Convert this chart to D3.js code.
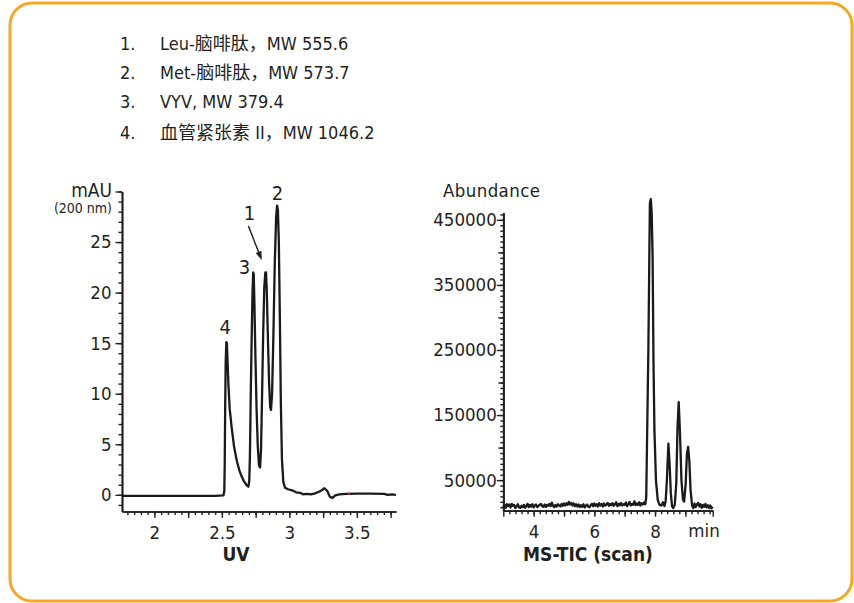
<!DOCTYPE html>
<html><head><meta charset="utf-8">
<script src="https://cdn.jsdelivr.net/npm/d3@7"></script>
<style>
html,body{margin:0;padding:0;background:#fff;}
svg text{font-family:'Liberation Sans Narrow','DejaVu Sans Condensed','Noto Sans CJK SC',sans-serif;fill:#231f20;}
</style></head>
<body><svg id="c" width="854" height="603"></svg>
<script>
// ---------- data ----------
const legendNums = ["1.", "2.", "3.", "4."];
const legendLabels = ["Leu-脑啡肽，MW 555.6", "Met-脑啡肽，MW 573.7", "VYV, MW 379.4", "血管紧张素 II，MW 1046.2"];

// UV trace: [time (min), mAU]
const uvTrace = [
 [1.76,-0.1],[1.9,-0.1],[2.1,-0.1],[2.3,-0.1],[2.45,-0.1],[2.512,-0.05],[2.518,0.4],[2.521,3],
 [2.524,8],[2.528,13],[2.533,15.1],[2.537,15.0],[2.541,13.6],[2.548,11],[2.558,8.5],[2.573,6.6],
 [2.59,4.8],[2.61,3.4],[2.63,2.4],[2.647,1.8],[2.665,1.3],[2.683,0.95],[2.696,0.8],[2.703,1.4],
 [2.708,4],[2.713,9],[2.72,15],[2.727,20],[2.732,22],[2.736,21.8],[2.741,19],[2.748,14],
 [2.757,8.5],[2.766,4.8],[2.775,2.9],[2.783,2.7],[2.79,4.5],[2.798,10],[2.806,16],[2.814,20.5],
 [2.822,22],[2.827,22],[2.833,20],[2.841,15.5],[2.85,11],[2.858,8.7],[2.864,8.4],[2.872,10],
 [2.882,16],[2.892,23],[2.902,27.5],[2.909,28.6],[2.915,28.2],[2.922,25],[2.93,17],[2.937,9],
 [2.945,3.5],[2.955,1.3],[2.968,0.7],[2.99,0.55],[3.02,0.45],[3.05,0.25],[3.08,0.2],[3.1,0.05],
 [3.13,0.1],[3.16,0.05],[3.19,0.15],[3.22,0.3],[3.24,0.45],[3.26,0.65],[3.28,0.4],[3.30,-0.2],
 [3.32,-0.3],[3.34,-0.05],[3.37,0.05],[3.42,0.1],[3.5,0.12],[3.6,0.12],[3.7,0.1],[3.73,0.0],
 [3.76,0.05],[3.79,0.0]
];
const uvRedMark = [3.436, 3.446];

// MS-TIC trace: [time (min), abundance]
const msTrace = [
 [3.00,8000],[3.04,12000],[3.08,7500],[3.12,13000],[3.16,10000],[3.20,12500],[3.24,8000],[3.28,13500],
 [3.32,10500],[3.36,12000],[3.40,7000],[3.44,9500],[3.48,13000],[3.52,8000],[3.56,7500],[3.60,10500],
 [3.64,8500],[3.68,12000],[3.72,7500],[3.76,10000],[3.80,13500],[3.84,8500],[3.88,12000],[3.92,9500],
 [3.96,13000],[4.00,8000],[4.04,11000],[4.08,12500],[4.12,8500],[4.16,10500],[4.20,12000],[4.24,13500],
 [4.28,10000],[4.32,9000],[4.36,12500],[4.40,8500],[4.44,12000],[4.48,10500],[4.52,13500],[4.56,10000],
 [4.60,15500],[4.64,10500],[4.68,8500],[4.72,12000],[4.76,9500],[4.80,13000],[4.84,11000],[4.88,9500],
 [4.92,13500],[4.96,10500],[5.00,14000],[5.04,11000],[5.08,14500],[5.12,12000],[5.16,16500],[5.20,12500],
 [5.24,15000],[5.28,11000],[5.32,14000],[5.36,10000],[5.40,13000],[5.44,9500],[5.48,12500],[5.52,8500],
 [5.56,11500],[5.60,9000],[5.64,13000],[5.68,8000],[5.72,10500],[5.76,12500],[5.80,9000],[5.84,8500],
 [5.88,11500],[5.92,13500],[5.96,10000],[6.00,14000],[6.04,10500],[6.08,13000],[6.12,9500],[6.16,14500],
 [6.20,11000],[6.24,13500],[6.28,9500],[6.32,14000],[6.36,11000],[6.40,12500],[6.44,15000],[6.48,10500],
 [6.52,13500],[6.56,11500],[6.60,14500],[6.64,10500],[6.68,13000],[6.72,16000],[6.76,10000],[6.80,13500],
 [6.84,11500],[6.88,15000],[6.92,11000],[6.96,13000],[7.00,12000],[7.04,15500],[7.08,10000],[7.12,13000],
 [7.16,16500],[7.20,11000],[7.24,13500],[7.28,12000],[7.32,17500],[7.36,11500],[7.40,14000],[7.44,12000],
 [7.48,16000],[7.52,11000],[7.56,14500],[7.60,12500],[7.64,15500],
 [7.68,13000],[7.71,24000],[7.78,250000],[7.83,475000],[7.86,482000],[7.89,460000],[7.92,393000],
 [7.95,227000],[7.98,127000],[8.03,50000],[8.09,19000],[8.15,12000],[8.21,11000],[8.26,16000],
 [8.31,10000],[8.35,18000],[8.39,50000],[8.44,106000],[8.48,75000],[8.52,30000],[8.56,10000],
 [8.60,7000],[8.65,12000],[8.70,45000],[8.74,130000],[8.78,170000],[8.82,125000],[8.87,50000],
 [8.92,20000],[8.96,17000],[9.01,45000],[9.05,90000],[9.09,101000],[9.13,80000],[9.17,35000],
 [9.22,11000],[9.26,7000],[9.30,14000],[9.34,8500],[9.38,12500],[9.42,15000],[9.46,9500],[9.50,13000],
 [9.54,7500],[9.58,12000],[9.62,9000],[9.66,13500],[9.70,8000],[9.74,11500],[9.78,7000],[9.82,11000],
 [9.86,6500],[9.90,9000]
];

// ticks
const uvYLabels = [0, 5, 10, 15, 20, 25];
const uvYMajor = [0, 5, 10, 15, 20, 25, 30];
const uvXLabels = [2, 2.5, 3, 3.5];
const uvXMajor = [2, 2.25, 2.5, 2.75, 3, 3.25, 3.5, 3.75];
const msYLabels = [50000, 150000, 250000, 350000, 450000];
const msYMedium = [100000, 200000, 300000, 400000];
const msXLabels = [4, 6, 8];
const msXMajor = [3, 4, 5, 6, 7, 8, 9];

// peak annotations [label, time, mAU]
const uvPeakLabels = [["4", 2.524, 16.6], ["3", 2.667, 22.5], ["1", 2.704, 27.9], ["2", 2.911, 29.85]];
const uvArrow = [[2.696, 26.6], [2.796, 23.2]];

// ---------- drawing ----------
const svg = d3.select("#c");
svg.append("rect").attr("x", 10).attr("y", 3).attr("width", 842).attr("height", 598)
  .attr("rx", 22).attr("fill", "#fff").attr("stroke", "#F7A823").attr("stroke-width", 3);

// legend
const lg = svg.append("g");
const legendBase = [50, 79, 107.5, 139];
legendNums.forEach((n, i) => {
  lg.append("text").attr("x", 120).attr("y", legendBase[i]).attr("font-size", 18).text(n);
  lg.append("text").attr("x", 160).attr("y", legendBase[i]).attr("font-size", 18).text(legendLabels[i]);
});

function range(a, b, s) { const out = []; for (let v = a; v <= b + 1e-9; v += s) out.push(+v.toFixed(6)); return out; }

function styleAxis(g) {
  g.select(".domain").attr("stroke", "#231f20").attr("stroke-width", 1.7);
  g.selectAll(".tick line").attr("stroke", "#231f20").attr("stroke-width", 1.4);
  g.selectAll(".tick text").attr("font-size", 18.5).attr("fill", "#231f20");
}

// ---- UV chart ----
const ux = d3.scaleLinear().domain([1.76, 3.79]).range([122, 396]);
const uy = d3.scaleLinear().domain([-1.65, 30]).range([511.5, 191.5]);

svg.append("g").attr("transform", "translate(0,511.5)")
  .call(d3.axisBottom(ux).tickValues(range(1.8, 3.75, 0.05)).tickSize(3.5).tickSizeOuter(0).tickFormat(""))
  .call(styleAxis);
svg.append("g").attr("transform", "translate(0,511.5)")
  .call(d3.axisBottom(ux).tickValues(uvXMajor).tickSize(6.5).tickSizeOuter(0).tickPadding(8)
    .tickFormat(d => uvXLabels.includes(d) ? d3.format("~g")(d) : ""))
  .call(styleAxis);
svg.append("g").attr("transform", "translate(122,0)")
  .call(d3.axisLeft(uy).tickValues(range(-1, 30, 1)).tickSize(3.5).tickSizeOuter(0).tickFormat(""))
  .call(styleAxis);
svg.append("g").attr("transform", "translate(122,0)")
  .call(d3.axisLeft(uy).tickValues(uvYMajor).tickSize(6.5).tickSizeOuter(0).tickPadding(4)
    .tickFormat(d => uvYLabels.includes(d) ? d : ""))
  .call(styleAxis);

svg.append("text").attr("x", 112).attr("y", 197).attr("text-anchor", "end").attr("font-size", 19).text("mAU");
svg.append("text").attr("x", 112).attr("y", 213).attr("text-anchor", "end").attr("font-size", 14).text("(200 nm)");
svg.append("text").attr("x", 236).attr("y", 561).attr("text-anchor", "middle").attr("font-size", 19)
  .attr("font-weight", "bold").text("UV");

const uvLine = d3.line().x(d => ux(d[0])).y(d => uy(d[1]));
svg.append("path").datum(uvTrace).attr("d", uvLine).attr("fill", "none")
  .attr("stroke", "#1a1a1a").attr("stroke-width", 2.3).attr("stroke-linejoin", "round");
svg.append("line").attr("x1", ux(uvRedMark[0])).attr("x2", ux(uvRedMark[1]))
  .attr("y1", uy(0.1)).attr("y2", uy(0.1)).attr("stroke", "#e8245c").attr("stroke-width", 2.5);

uvPeakLabels.forEach(([t, x, y]) => {
  svg.append("text").attr("x", ux(x)).attr("y", uy(y)).attr("text-anchor", "middle")
    .attr("dominant-baseline", "central").attr("font-size", 20).text(t);
});
{
  const [p0, p1] = uvArrow;
  const x0 = ux(p0[0]), y0 = uy(p0[1]), x1 = ux(p1[0]), y1 = uy(p1[1]);
  const ang = Math.atan2(y1 - y0, x1 - x0);
  const L = 9, W = 3;
  const bx = x1 - L * Math.cos(ang), by = y1 - L * Math.sin(ang);
  svg.append("line").attr("x1", x0).attr("y1", y0).attr("x2", bx).attr("y2", by)
    .attr("stroke", "#231f20").attr("stroke-width", 1.4);
  const nx = -Math.sin(ang) * W, ny = Math.cos(ang) * W;
  svg.append("path").attr("d", `M${x1},${y1}L${bx + nx},${by + ny}L${bx - nx},${by - ny}Z`).attr("fill", "#231f20");
}

// ---- MS chart ----
const mx = d3.scaleLinear().domain([3.0, 9.9]).range([503.3, 712.7]);
const my = d3.scaleLinear().domain([3000, 461000]).range([510.7, 212.7]);

svg.append("g").attr("transform", "translate(0,510.7)")
  .call(d3.axisBottom(mx).tickValues(range(3.2, 9.8, 0.2)).tickSize(3.5).tickSizeOuter(0).tickFormat(""))
  .call(styleAxis);
svg.append("g").attr("transform", "translate(0,510.7)")
  .call(d3.axisBottom(mx).tickValues(msXMajor.concat([9.9])).tickSize(6).tickSizeOuter(0).tickPadding(8)
    .tickFormat(d => msXLabels.includes(d) ? d : ""))
  .call(styleAxis);
svg.append("g").attr("transform", "translate(503.3,0)")
  .call(d3.axisLeft(my).tickValues(range(100000 / 12, 460000, 100000 / 12)).tickSize(3).tickSizeOuter(0).tickFormat(""))
  .call(styleAxis);
svg.append("g").attr("transform", "translate(503.3,0)")
  .call(d3.axisLeft(my).tickValues(msYMedium).tickSize(5).tickSizeOuter(0).tickFormat(""))
  .call(styleAxis);
svg.append("g").attr("transform", "translate(503.3,0)")
  .call(d3.axisLeft(my).tickValues(msYLabels).tickSize(6.5).tickSizeOuter(0).tickPadding(0).tickFormat(d => d))
  .call(styleAxis);

svg.append("text").attr("x", 443).attr("y", 197).attr("font-size", 18.5).attr("letter-spacing", 0.4).text("Abundance");
svg.append("text").attr("x", 704).attr("y", 537).attr("text-anchor", "middle").attr("font-size", 18.5).text("min");
svg.append("text").attr("x", 588).attr("y", 561).attr("text-anchor", "middle").attr("font-size", 19)
  .attr("font-weight", "bold").text("MS-TIC (scan)");

const msLine = d3.line().x(d => mx(d[0])).y(d => my(d[1]));
svg.append("path").datum(msTrace).attr("d", msLine).attr("fill", "none")
  .attr("stroke", "#1a1a1a").attr("stroke-width", 2.3).attr("stroke-linejoin", "round");
</script></body></html>
